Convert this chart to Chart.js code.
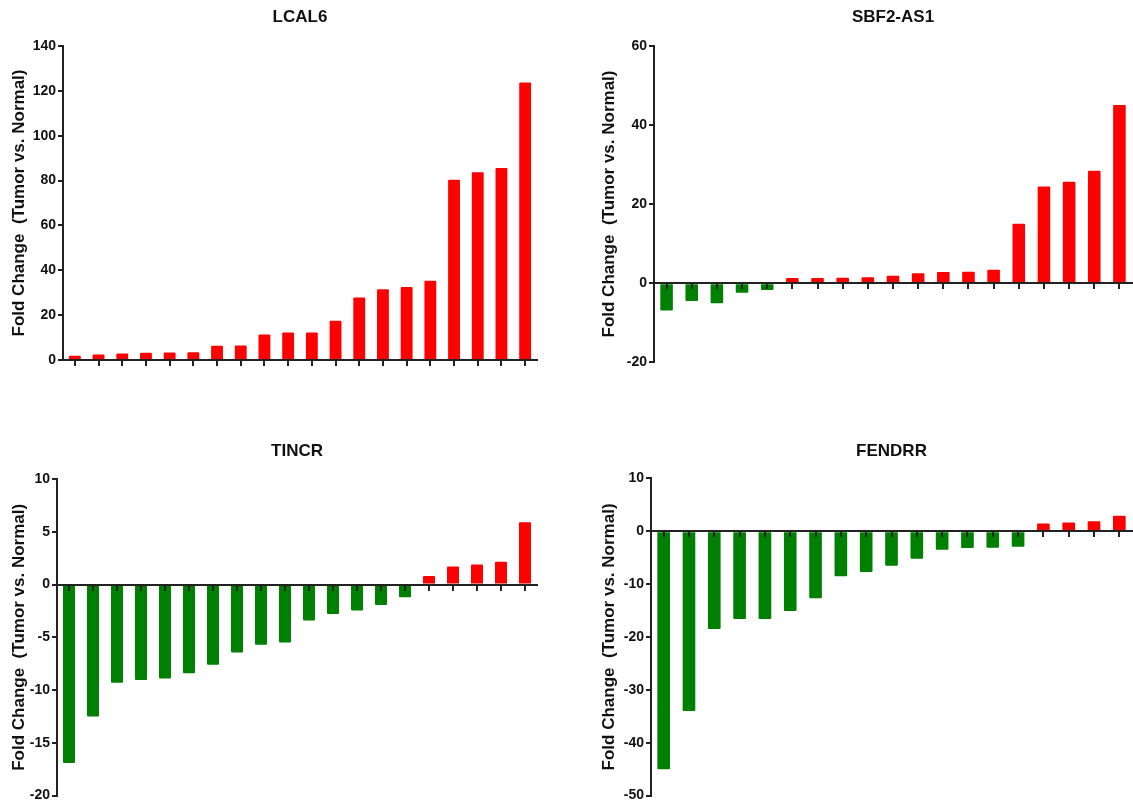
<!DOCTYPE html>
<html>
<head>
<meta charset="utf-8">
<script src="https://cdn.jsdelivr.net/npm/chart.js@4.4.1/dist/chart.umd.min.js"></script>
<style>
  body { margin: 0; background: #fff; }
  #wrap { position: relative; width: 1133px; height: 806px; }
  canvas { position: absolute; }
</style>
</head>
<body>
<div id="wrap">
  <canvas id="c1" width="545" height="400" style="left:0px;top:0px"></canvas>
  <canvas id="c2" width="543" height="400" style="left:590px;top:0px"></canvas>
  <canvas id="c3" width="545" height="376" style="left:0px;top:430px"></canvas>
  <canvas id="c4" width="543" height="376" style="left:590px;top:430px"></canvas>
</div>
<script>
// fold change per sample, sorted
const lcal6 = [1.9, 2.4, 2.9, 3.2, 3.3, 3.4, 6.4, 6.5, 11.4, 12.3, 12.3, 17.5, 27.9, 31.6, 32.6, 35.3, 80.4, 83.7, 85.6, 123.7];
const sbf2as1 = [-6.9, -4.5, -5.1, -2.4, -1.7, 1.3, 1.3, 1.35, 1.5, 1.85, 2.5, 2.8, 2.9, 3.4, 15.0, 24.4, 25.6, 28.4, 45.0];
const tincr = [-16.9, -12.5, -9.3, -9.05, -8.9, -8.4, -7.6, -6.45, -5.7, -5.5, -3.4, -2.8, -2.45, -1.95, -1.2, 0.8, 1.7, 1.9, 2.15, 5.9];
const fendrr = [-45.0, -34.0, -18.5, -16.6, -16.6, -15.1, -12.7, -8.5, -7.7, -6.55, -5.2, -3.5, -3.2, -3.15, -2.95, 1.45, 1.65, 1.9, 2.9];

const yTitle = 'Fold Change  (Tumor vs. Normal)';
const RED = '#ff0000';
const GREEN = '#008000';
const AXIS = '#222';
const FONT = 'Liberation Sans, Arial, sans-serif';

function makePanel(id, title, values, yMin, yMax, step, axisW, titleX, titlePad, pad) {
    new Chart(document.getElementById(id), {
        type: 'bar',
        data: {
            labels: values.map((v, i) => String(i + 1)),
            datasets: [{
                data: values,
                backgroundColor: values.map(v => v < 0 ? GREEN : RED),
                barPercentage: 0.5,
                categoryPercentage: 1.0,
                borderRadius: 1,
            }],
        },
        options: {
            responsive: false,
            animation: false,
            layout: { padding: pad },
            plugins: {
                legend: { display: false },
                tooltip: { enabled: false },
                title: {
                    display: true,
                    text: title,
                    fullSize: false,
                    color: '#111',
                    font: { family: FONT, size: 17, weight: 'bold', lineHeight: 1.2 },
                    padding: titlePad,
                },
            },
            scales: {
                x: {
                    position: { y: 0 },
                    offset: true,
                    // tick marks sit on top of the bars, like in the original
                    grid: {
                        offset: false,
                        drawOnChartArea: false,
                        color: AXIS,
                        lineWidth: 2,
                        tickLength: 5,
                        z: 1,
                    },
                    border: { display: true, color: AXIS, width: 2, z: 1 },
                    ticks: { display: false },
                },
                y: {
                    min: yMin,
                    max: yMax,
                    afterFit: (scale) => { scale.width = axisW; },
                    grid: {
                        drawOnChartArea: false,
                        color: AXIS,
                        lineWidth: 2,
                        tickLength: 5,
                    },
                    border: { display: true, color: AXIS, width: 2 },
                    ticks: {
                        stepSize: step,
                        padding: 2,
                        color: '#111',
                        font: { family: FONT, size: 14, weight: 'bold' },
                    },
                    title: {
                        display: true,
                        text: yTitle,
                        color: '#111',
                        font: { family: FONT, size: 17, weight: 'bold', lineHeight: 1.2 },
                        padding: { top: titleX, bottom: 0 },
                    },
                },
            },
        },
    });
}

makePanel('c1', 'LCAL6', lcal6, 0, 140, 20, 63, 8.8, { top: 7.6, bottom: 18 }, { top: 0, right: 8, bottom: 40, left: 0 });
makePanel('c2', 'SBF2-AS1', sbf2as1, -20, 60, 20, 64, 9.5, { top: 7.6, bottom: 17.7 }, { top: 0, right: 1, bottom: 37.7, left: 0 });
makePanel('c3', 'TINCR', tincr, -20, 10, 5, 57, 8.8, { top: 10.8, bottom: 17.8 }, { top: 0, right: 8, bottom: 10.3, left: 0 });
makePanel('c4', 'FENDRR', fendrr, -50, 10, 10, 61, 9.5, { top: 10.8, bottom: 17.1 }, { top: 0, right: 1, bottom: 10.3, left: 0 });
</script>
</body>
</html>
